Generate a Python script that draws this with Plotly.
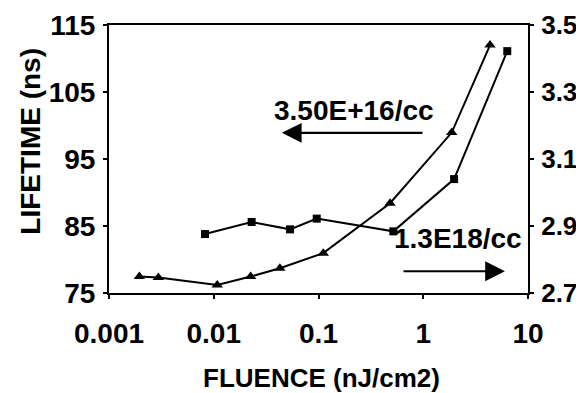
import plotly.graph_objects as go

# Series: 3.50E+16/cc (squares, left axis, lifetime in ns)
fluence_a = [0.00825, 0.0230, 0.0535, 0.0962, 0.518, 1.97, 6.34]
lifetime_a = [83.8, 85.6, 84.5, 86.1, 84.2, 92.0, 111.1]

# Series: 1.3E18/cc (triangles, right axis)
fluence_b = [0.00195, 0.00296, 0.0108, 0.0225, 0.0428, 0.111, 0.482, 1.87, 4.34]
lifetime_b = [2.749, 2.746, 2.724, 2.749, 2.774, 2.819, 2.968, 3.179, 3.440]

x_ticks = [0.001, 0.01, 0.1, 1, 10]
x_tick_labels = ["0.001", "0.01", "0.1", "1", "10"]
y_left_ticks = [75, 85, 95, 105, 115]
y_right_ticks = [2.7, 2.9, 3.1, 3.3, 3.5]

FONT = "Liberation Sans, Arial, sans-serif"
FS = 28

fig = go.Figure()
fig.add_trace(go.Scatter(
    x=fluence_a, y=lifetime_a, mode="lines+markers", name="3.50E+16/cc",
    line=dict(color="black", width=2),
    marker=dict(symbol="square", size=8, color="black"),
    yaxis="y", showlegend=False))
fig.add_trace(go.Scatter(
    x=fluence_b, y=lifetime_b, mode="lines+markers", name="1.3E18/cc",
    line=dict(color="black", width=2),
    marker=dict(symbol="triangle-up", size=10, color="black"),
    yaxis="y2", showlegend=False))

tfont = dict(family=FONT, size=FS, color="black", weight="bold")
axis_common = dict(showline=True, linecolor="black", linewidth=2, showgrid=False,
                   zeroline=False, ticks="outside", ticklen=4, tickwidth=2,
                   tickcolor="black", automargin=False, tickfont=tfont)

# page body has an 8px margin; figure is sized so the plot sits where the reference has it
fig.update_layout(
    width=576, height=385,
    margin=dict(l=101, r=56, t=17, b=100),
    paper_bgcolor="white", plot_bgcolor="white",
    xaxis=dict(type="log", range=[-3, 1], tickvals=x_ticks, ticktext=x_tick_labels,
               mirror=True, ticklabelstandoff=10, **axis_common),
    yaxis=dict(range=[75, 115], tickvals=y_left_ticks, ticklabelstandoff=2, **axis_common),
    yaxis2=dict(range=[2.7, 3.5], tickvals=y_right_ticks, tickformat=".1f",
                overlaying="y", side="right", ticklabelstandoff=2,
                **{**axis_common,
                   "tickfont": dict(family=FONT, size=26, color="black", weight="bold")}),
    annotations=[
        dict(text="LIFETIME (ns)", xref="paper", yref="paper", x=-0.186, y=0.565,
             textangle=-90, showarrow=False, xanchor="center", yanchor="middle",
             font=dict(family=FONT, size=28, color="black", weight="bold")),
        dict(text="FLUENCE (nJ/cm2)", xref="paper", yref="paper", x=0.508, y=-0.317,
             showarrow=False, xanchor="center", yanchor="middle",
             font=dict(family=FONT, size=26, color="black", weight="bold")),
        dict(text="3.50E+16/cc", x=-0.661, y=102.3, xref="x", yref="y",
             showarrow=False, font=tfont),
        dict(text="", x=-1.35, y=98.9, ax=0.007, ay=98.9, xref="x", yref="y",
             axref="x", ayref="y", showarrow=True, arrowhead=2, arrowsize=1.8,
             arrowwidth=2.2, arrowcolor="black"),
        dict(text="1.3E18/cc", x=0.33, y=2.864, xref="x", yref="y2",
             showarrow=False, font=tfont),
        dict(text="", x=0.78, y=2.765, ax=-0.203, ay=2.765, xref="x", yref="y2",
             axref="x", ayref="y2", showarrow=True, arrowhead=2, arrowsize=1.8,
             arrowwidth=2.2, arrowcolor="black"),
    ],
)

fig.write_html("out.html")
